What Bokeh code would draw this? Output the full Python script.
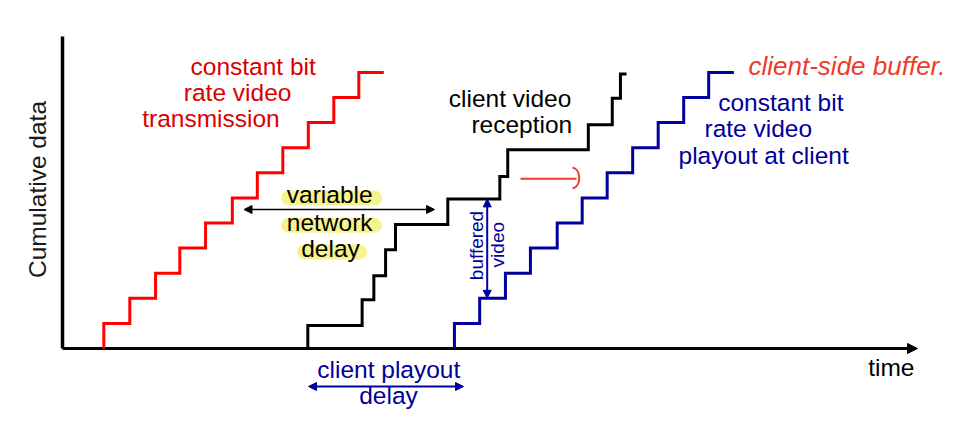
import numpy as np
from bokeh.plotting import figure
from bokeh.models import Range1d, Arrow, NormalHead
from bokeh.core.properties import value
from bokeh.embed import file_html
from bokeh.resources import INLINE

# ---------------- data (time units / cumulative-data levels) ----------------
red_times = [1.62, 2.64, 3.65, 4.60, 5.61, 6.66, 7.64, 8.64, 9.64, 10.64, 11.62]
red_levels = [1, 2, 3, 4, 5, 6, 7, 8, 9, 10, 11]
red_end = 12.60

black_times = [9.62, 11.75, 12.21, 12.67, 13.06, 15.11, 17.15, 17.46, 20.62, 21.56, 21.88]
black_levels = [0.92, 1.94, 2.90, 3.93, 4.94, 5.96, 6.85, 7.92, 8.91, 9.97, 10.94]
black_end = 22.12

blue_times = [15.37, 16.36, 17.37, 18.35, 19.40, 20.38, 21.36, 22.36, 23.36, 24.36, 25.34]
blue_levels = [1, 2, 3, 4, 5, 6, 7, 8, 9, 10, 11]
blue_end = 26.33

time_axis_end = 33.53
data_axis_top = 12.43

# ---------------- layout ----------------
W, H = 960, 413
PX_T = 25.5   # pixels per time unit
PX_L = 25.1   # pixels per level
X0, Y0 = 62, 348  # pixel position of origin inside figure


def tx(px):  # pixel -> time units
    return (px - X0) / PX_T


def ly(py):  # pixel -> level units
    return (Y0 - py) / PX_L


FONT = value("Liberation Sans")
FS = 24.5
RED_LINE = "#ff0000"
RED_TEXT = "#d80000"
BLUE_LINE = "#00009c"
BLUE_TEXT = "#000099"
HAND = "#ee3b2b"

p = figure(width=W, height=H,
           x_range=Range1d(-X0 / PX_T, (W - X0) / PX_T),
           y_range=Range1d(-(H - Y0) / PX_L, Y0 / PX_L),
           x_axis_type=None, y_axis_type=None,
           toolbar_location=None, output_backend="svg",
           min_border=0, outline_line_color=None)
p.background_fill_color = "white"
p.border_fill_color = "white"


def stairs(times, levels, end):
    xs, ys = [], []
    prev = 0
    for t, l in zip(times, levels):
        xs += [t, t]
        ys += [prev, l]
        prev = l
    xs.append(end)
    ys.append(prev)
    return xs, ys


# yellow highlights behind "variable network delay"
p.multi_line(xs=[[tx(288), tx(374)], [tx(288), tx(374)], [tx(304), tx(359)]],
             ys=[[ly(197.5), ly(197.5)], [ly(224.7), ly(224.7)], [ly(251.5), ly(251.5)]],
             line_width=15, line_cap="round", color="#f7f38c")

# axes
p.line([0, 0], [0, data_axis_top], line_width=3.5, color="black")
p.line([0, time_axis_end - 8 / PX_T], [0, 0], line_width=3, color="black")
p.add_layout(Arrow(end=NormalHead(size=10, fill_color="black", line_color="black"),
                   x_start=time_axis_end - 1, y_start=0, x_end=time_axis_end, y_end=0,
                   line_alpha=0))

# staircases
for times, levels, end, col in [(red_times, red_levels, red_end, RED_LINE),
                                (black_times, black_levels, black_end, "black"),
                                (blue_times, blue_levels, blue_end, BLUE_LINE)]:
    xs, ys = stairs(times, levels, end)
    p.line(xs, ys, line_width=3, color=col, line_join="miter", line_cap="butt")

# variable network delay double arrow
p.add_layout(Arrow(start=NormalHead(size=8, fill_color="black", line_color="black"),
                   end=NormalHead(size=8, fill_color="black", line_color="black"),
                   x_start=tx(243.5), y_start=ly(209), x_end=tx(434), y_end=ly(209),
                   line_width=1.5, line_color="black"))

# buffered video arrow
p.add_layout(Arrow(start=NormalHead(size=8, fill_color=BLUE_LINE, line_color=BLUE_LINE),
                   end=NormalHead(size=8, fill_color=BLUE_LINE, line_color=BLUE_LINE),
                   x_start=tx(486.7), y_start=black_levels[5], x_end=tx(486.7), y_end=blue_levels[1],
                   line_width=2, line_color=BLUE_LINE))

# client playout delay arrow
p.add_layout(Arrow(start=NormalHead(size=8, fill_color=BLUE_LINE, line_color=BLUE_LINE),
                   end=NormalHead(size=8, fill_color=BLUE_LINE, line_color=BLUE_LINE),
                   x_start=tx(308), y_start=ly(386), x_end=tx(463), y_end=ly(386),
                   line_width=2, line_color=BLUE_LINE))

# red hand-drawn arrow
p.line([tx(520), tx(576)], [ly(178.3), ly(178.3)], line_width=2, color=HAND)
p.bezier(x0=[tx(572)], y0=[ly(167)], x1=[tx(572)], y1=[ly(188)],
         cx0=[tx(581)], cy0=[ly(169)], cx1=[tx(581)], cy1=[ly(186)],
         line_width=2, line_color=HAND)


# texts (positions given as baseline pixels; small correction for renderer baseline offset)
def txt(pxs, pys, texts, color, align="left", size=FS, rotated=False, style="normal"):
    off = 0.34 * size
    if rotated:
        xs = [tx(px - off) for px in pxs]
        ys = [ly(py) for py in pys]
        angle = np.pi / 2
    else:
        xs = [tx(px) for px in pxs]
        ys = [ly(py - off) for py in pys]
        angle = 0.0
    p.text(x=xs, y=ys, text=texts, text_color=color, text_align=align,
           text_baseline="alphabetic", text_font=FONT, text_font_size=value(f"{size}px"),
           angle=angle, text_font_style=style)


txt([190, 183.3, 141.7], [74, 100, 126.7],
    ["constant bit", "rate video", "transmission"], RED_TEXT)

txt([448.3], [106], ["client video"], "black")
txt([571.7], [132.7], ["reception"], "black", align="right")

txt([717.7, 704], [110.7, 136.7], ["constant bit", "rate video"], BLUE_TEXT)
txt([848.3], [163.3], ["playout at client"], BLUE_TEXT, align="right")

txt([329.2, 329.2, 330], [202.3, 230, 256.7],
    ["variable", "network", "delay"], "black", align="center")

txt([867.7], [375.7], ["time"], "black")
txt([388.3, 388], [377.3, 403.3], ["client playout", "delay"], BLUE_TEXT, align="center")

txt([45], [189], ["Cumulative data"], "#1a1a1a", align="center", rotated=True)

txt([482.7, 503.3], [245, 244.2], ["buffered", "video"], BLUE_TEXT,
    align="center", size=19, rotated=True)

txt([748], [74], ["client-side buffer."], HAND, size=26, style="italic")

open("out.html", "w").write(file_html(p, INLINE))
